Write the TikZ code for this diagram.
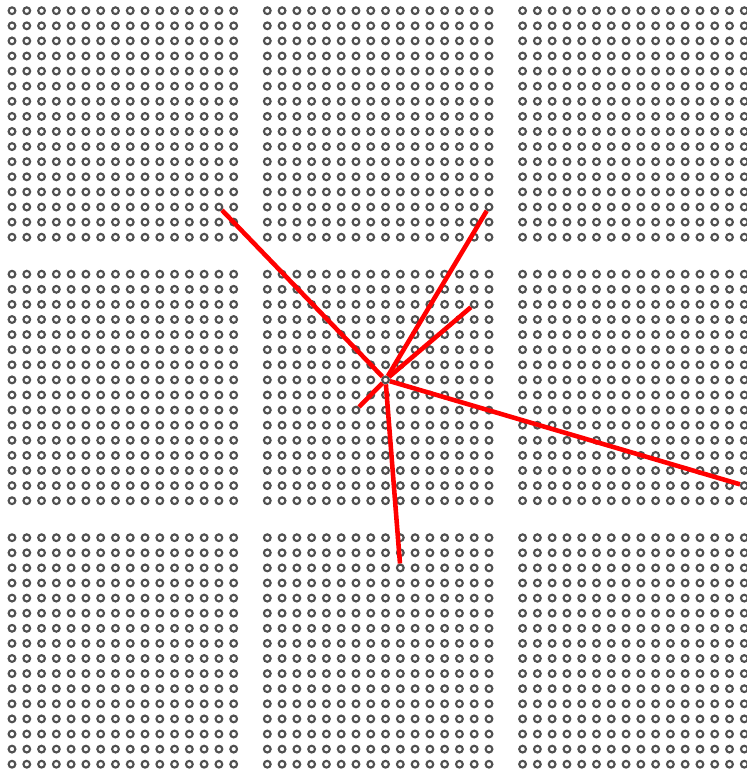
\documentclass[tikz,border=0pt]{standalone}
\usepackage{xcolor}
\usepackage{tikz}
\usetikzlibrary{positioning}
\definecolor{holegray}{RGB}{80,80,80}
\definecolor{rayred}{RGB}{255,0,0}
\tikzset{
  hole/.style={circle, draw=holegray, fill=white, inner sep=0pt,
    minimum size=0.135cm, line width=1.2pt},
  ray/.style={line width=2.6pt, color=rayred}
}
\begin{document}
\begin{tikzpicture}[x=0.02cm, y=-0.02cm]
  \useasboundingbox (0,0) rectangle (747,772);
  % 3 x 3 blocks of 16 x 16 holes
  \foreach \bx in {0,1,2} {
    \foreach \by in {0,1,2} {
      \foreach \c in {0,...,15} {
        \foreach \r in {0,...,15} {
          \node[hole] (h-\bx-\by-\c-\r)
            at ({12+\bx*255.3+\c*14.78},{10.7+\by*263.5+\r*15.1}) {};
        }
      }
    }
  }
  % rays from the centre hole
  \draw[ray] (h-1-1-8-7) -- (h-0-0-14-13);
  \draw[ray] (h-1-1-8-7) -- (h-1-0-15-13);
  \draw[ray] (h-1-1-8-7) -- (h-1-1-14-2);
  \draw[ray] (h-1-1-8-7) -- (h-1-1-6-9);
  \draw[ray] (h-1-1-8-7) -- (h-1-2-9-2);
  \draw[ray] (h-1-1-8-7) -- (h-2-1-15-14);
\end{tikzpicture}
\end{document}
